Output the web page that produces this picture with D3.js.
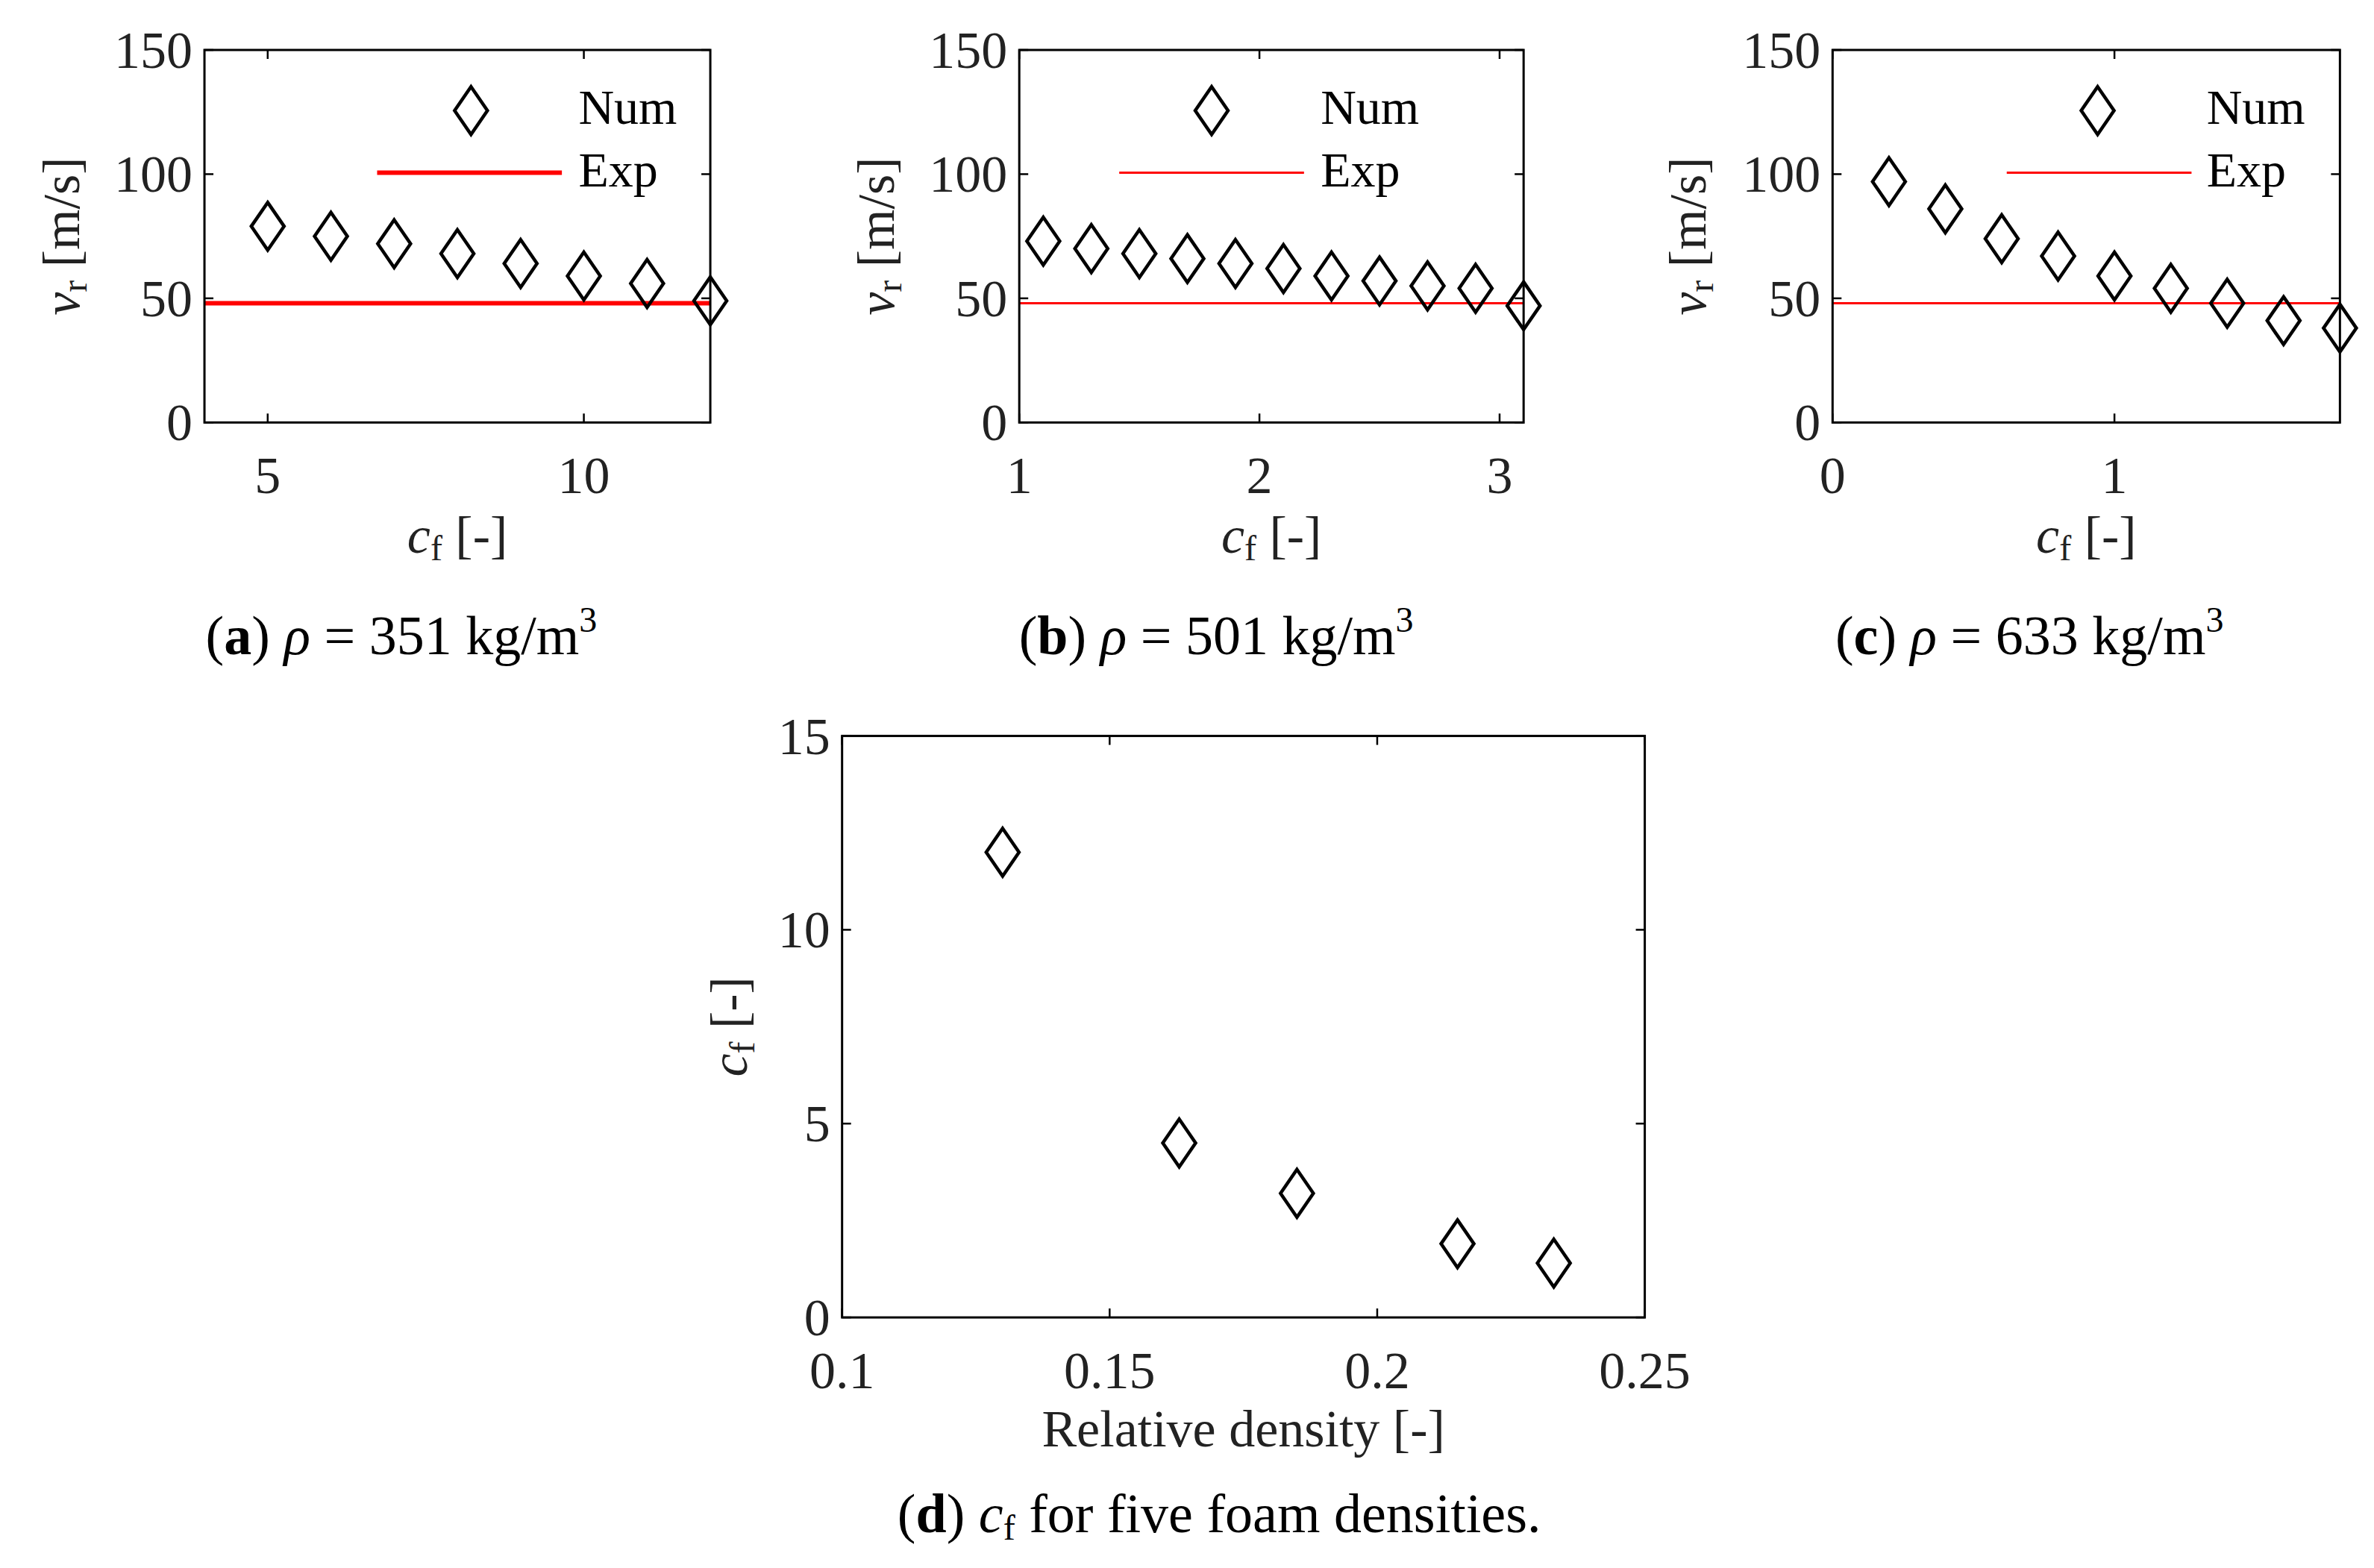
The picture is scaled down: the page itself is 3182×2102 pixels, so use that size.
<!DOCTYPE html><html><head><meta charset="utf-8">
<script src="https://cdn.jsdelivr.net/npm/d3@7"></script>
<style>body{margin:0;background:#fff}</style></head><body>
<script>
const aX=[5,6,7,8,9,10,11,12], aY=[79,75,72,68,64,59,56,49], aExp=48;
const bX=[1.1,1.3,1.5,1.7,1.9,2.1,2.3,2.5,2.7,2.9,3.1], bY=[73,70,68,66,64,62,59,57,55,54,47], bExp=48;
const cX=[0.2,0.4,0.6,0.8,1.0,1.2,1.4,1.6,1.8], cY=[97,86,74,67,59,54,48,41,38], cExp=48;
const dX=[0.13,0.163,0.185,0.215,0.233], dY=[12,4.5,3.2,1.9,1.4];
const vTicks=[0,50,100,150];
const S=2.03;
const svg=d3.select("body").append("svg").attr("width",3182).attr("height",2102);
const serif="'Liberation Serif','DejaVu Serif',serif";
function diamond(g,x,y){g.append("path").attr("d",`M${x},${y-32}L${x+22},${y}L${x},${y+32}L${x-22},${y}Z`).attr("fill","none").attr("stroke","#000").attr("stroke-width",4.5);}
function panel(o){
  const x=d3.scaleLinear().domain(o.xd).range([o.l*S,o.r*S]);
  const y=d3.scaleLinear().domain(o.yd).range([o.b*S,o.t*S]);
  const g=svg.append("g");
  const tl=12;
  o.xt.forEach(v=>{const px=x(v);
    g.append("line").attr("x1",px).attr("x2",px).attr("y1",y.range()[0]).attr("y2",y.range()[0]-tl).attr("stroke","#000").attr("stroke-width",2.5);
    g.append("line").attr("x1",px).attr("x2",px).attr("y1",y.range()[1]).attr("y2",y.range()[1]+tl).attr("stroke","#000").attr("stroke-width",2.5);
    g.append("text").attr("x",px).attr("y",y.range()[0]+95).attr("text-anchor","middle").attr("font-family",serif).attr("font-size",70).attr("fill","#222").text(o.xf?o.xf(v):v);});
  o.yt.forEach(v=>{const py=y(v);
    g.append("line").attr("x1",x.range()[0]).attr("x2",x.range()[0]+tl).attr("y1",py).attr("y2",py).attr("stroke","#000").attr("stroke-width",2.5);
    g.append("line").attr("x1",x.range()[1]).attr("x2",x.range()[1]-tl).attr("y1",py).attr("y2",py).attr("stroke","#000").attr("stroke-width",2.5);
    g.append("text").attr("x",x.range()[0]-16).attr("y",py+24).attr("text-anchor","end").attr("font-family",serif).attr("font-size",70).attr("fill","#222").text(v);});
  if(o.exp!==undefined) g.append("line").attr("x1",x.range()[0]).attr("x2",x.range()[1]).attr("y1",y(o.exp)).attr("y2",y(o.exp)).attr("stroke","#f00").attr("stroke-width",o.ew||5);
  g.append("rect").attr("x",x.range()[0]).attr("y",y.range()[1]).attr("width",x.range()[1]-x.range()[0]).attr("height",y.range()[0]-y.range()[1]).attr("fill","none").attr("stroke","#000").attr("stroke-width",3);
  o.xs.forEach((v,i)=>diamond(g,x(v),y(o.ys[i])));
  if(o.leg){const L=o.leg;
    diamond(g,L[0]*S,73*S);
    g.append("line").attr("x1",L[1]*S).attr("x2",L[2]*S).attr("y1",114*S).attr("y2",114*S).attr("stroke","#f00").attr("stroke-width",o.ew||5);
    g.append("text").attr("x",L[3]*S).attr("y",82*S).attr("font-family",serif).attr("font-size",66).text("Num");
    g.append("text").attr("x",L[3]*S).attr("y",123*S).attr("font-family",serif).attr("font-size",66).text("Exp");}
  // y label
  const cy=(y.range()[0]+y.range()[1])/2, lx=o.ylx*S;
  const yl=g.append("text").attr("transform",`translate(${lx},${cy}) rotate(-90)`).attr("text-anchor","middle").attr("font-family",serif).attr("font-size",70).attr("fill","#222");
  o.ylab(yl);
  const xl=g.append("text").attr("x",(x.range()[0]+x.range()[1])/2).attr("y",o.xly*S).attr("text-anchor","middle").attr("font-family",serif).attr("font-size",70).attr("fill","#222");
  o.xlab(xl);
  const cap=svg.append("text").attr("x",o.capx*S).attr("y",o.capy*S).attr("text-anchor","middle").attr("font-family",serif).attr("font-size",74);
  o.cap(cap);
}
const vr=t=>{t.append("tspan").attr("font-style","italic").text("v");t.append("tspan").attr("font-size",48).attr("dy",10).text("r");t.append("tspan").attr("dy",-10).text(" [m/s]");};
const cf=t=>{t.append("tspan").attr("font-style","italic").text("c");t.append("tspan").attr("font-size",48).attr("dy",10).text("f");t.append("tspan").attr("dy",-10).text(" [-]");};
const capRho=(l,n)=>t=>{t.append("tspan").text("(");t.append("tspan").attr("font-weight","bold").text(l);t.append("tspan").text(")  ");t.append("tspan").attr("font-style","italic").text("ρ");t.append("tspan").text(` = ${n} kg/m`);t.append("tspan").attr("font-size",48).attr("dy",-30).text("3");};
panel({xd:[4,12],yd:[0,150],l:135,r:469,t:33,b:279,xt:[5,10],yt:vTicks,xs:aX,ys:aY,exp:aExp,ew:6,leg:[311,249,371,382],ylx:52,xly:365,xlab:cf,ylab:vr,capx:265,capy:432,cap:capRho("a","351")});
panel({xd:[1,3.1],yd:[0,150],l:673,r:1006,t:33,b:279,xt:[1,2,3],yt:vTicks,xs:bX,ys:bY,exp:bExp,ew:3,leg:[800,739,861,872],ylx:590,xly:365,xlab:cf,ylab:vr,capx:803,capy:432,cap:capRho("b","501")});
panel({xd:[0,1.8],yd:[0,150],l:1210,r:1545,t:33,b:279,xt:[0,1],yt:vTicks,xs:cX,ys:cY,exp:cExp,ew:3,leg:[1385,1325,1447,1457],ylx:1126,xly:365,xlab:cf,ylab:vr,capx:1340,capy:432,cap:capRho("c","633")});
panel({xd:[0.1,0.25],yd:[0,15],l:556,r:1086,t:486,b:870,xt:[0.1,0.15,0.2,0.25],yt:[0,5,10,15],xs:dX,ys:dY,ylx:493,xly:955,xlab:t=>t.text("Relative density [-]"),ylab:cf,capx:805,capy:1012,
 cap:t=>{t.append("tspan").text("(");t.append("tspan").attr("font-weight","bold").text("d");t.append("tspan").text(")  ");t.append("tspan").attr("font-style","italic").text("c");t.append("tspan").attr("font-size",48).attr("dy",10).text("f");t.append("tspan").attr("dy",-10).text("  for five foam densities.");}});
</script></body></html>
